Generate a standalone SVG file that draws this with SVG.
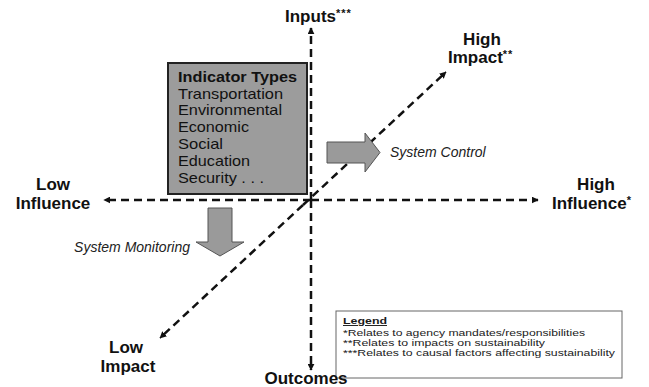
<svg xmlns="http://www.w3.org/2000/svg" width="649" height="387" viewBox="0 0 649 387">
<style>
.lbl{font-family:"Liberation Sans",Arial,sans-serif;font-weight:bold;font-size:17px;fill:#111}
.sup{font-size:11px;letter-spacing:1px}
.box{font-family:"Liberation Sans",Arial,sans-serif;font-size:15px;fill:#111}
.it{font-family:"Liberation Sans",Arial,sans-serif;font-style:italic;font-size:14px;fill:#222}
.leg{font-family:"Liberation Sans",Arial,sans-serif;font-size:9.5px;fill:#1a1a1a}
.axis{stroke:#111;stroke-width:2.5;stroke-dasharray:8 5;fill:none}
.blk{fill:#9a9a9a;stroke:#555;stroke-width:1}
</style>
<defs>
<marker id="ah" viewBox="0 0 10 10" refX="9" refY="5" markerWidth="7" markerHeight="7" markerUnits="userSpaceOnUse" orient="auto">
<path d="M0,0 L10,5 L0,10 z" fill="#111"/>
</marker>
</defs>
<rect width="649" height="387" fill="#fff"/>
<g id="connectors">
<line class="axis" x1="311" y1="200" x2="311" y2="28" marker-end="url(#ah)"/>
<line class="axis" x1="311" y1="200" x2="311" y2="370" marker-end="url(#ah)"/>
<line class="axis" x1="311" y1="200" x2="104" y2="200" marker-end="url(#ah)"/>
<line class="axis" x1="311" y1="200" x2="538" y2="200" marker-end="url(#ah)"/>
<line class="axis" x1="303" y1="205" x2="446" y2="72" marker-end="url(#ah)"/>
<line class="axis" x1="303" y1="205" x2="160" y2="338" marker-end="url(#ah)"/>
</g>
<g id="indicator-types">
<rect x="168" y="63" width="139" height="131" fill="#9c9c9c" stroke="#222" stroke-width="2"/>
<text class="box" x="178" y="82" font-weight="bold" textLength="119" lengthAdjust="spacingAndGlyphs">Indicator Types</text>
<text class="box" x="178" y="99" textLength="105" lengthAdjust="spacingAndGlyphs">Transportation</text>
<text class="box" x="178" y="115" textLength="104" lengthAdjust="spacingAndGlyphs">Environmental</text>
<text class="box" x="178" y="132" textLength="71" lengthAdjust="spacingAndGlyphs">Economic</text>
<text class="box" x="178" y="149" textLength="45" lengthAdjust="spacingAndGlyphs">Social</text>
<text class="box" x="178" y="166" textLength="72" lengthAdjust="spacingAndGlyphs">Education</text>
<text class="box" x="178" y="183" textLength="86" lengthAdjust="spacingAndGlyphs">Security . . .</text>
</g>
<g id="system-control">
<path class="blk" d="M327,142 H365 V133 L380,152.5 L365,172 V163 H327 Z"/>
<text class="it" x="390" y="157">System Control</text>
</g>
<g id="system-monitoring">
<path class="blk" d="M208,208 H232 V242 H244 L220,256 L196,242 H208 Z"/>
<text class="it" x="190" y="252" text-anchor="end">System Monitoring</text>
</g>
<g id="inputs"><text class="lbl" x="285" y="22">Inputs<tspan class="sup" dy="-5">***</tspan></text></g>
<g id="low-influence">
<text class="lbl" x="53" y="190" text-anchor="middle">Low</text>
<text class="lbl" x="53" y="209" text-anchor="middle">Influence</text>
</g>
<g id="high-influence">
<text class="lbl" x="596" y="190" text-anchor="middle">High</text>
<text class="lbl" x="552" y="209">Influence<tspan class="sup" dy="-5">*</tspan></text>
</g>
<g id="high-impact">
<text class="lbl" x="482" y="45" text-anchor="middle">High</text>
<text class="lbl" x="448" y="63">Impact<tspan class="sup" dy="-5">**</tspan></text>
</g>
<g id="low-impact">
<text class="lbl" x="126" y="353" text-anchor="middle">Low</text>
<text class="lbl" x="128" y="372" text-anchor="middle">Impact</text>
</g>
<g id="legend">
<rect x="336" y="311" width="286" height="67" fill="#fff" stroke="#666" stroke-width="1"/>
<text class="leg" x="343" y="324" font-weight="bold" text-decoration="underline" textLength="44" lengthAdjust="spacingAndGlyphs">Legend</text>
<text class="leg" x="343" y="336" textLength="242" lengthAdjust="spacingAndGlyphs">*Relates to agency mandates/responsibilities</text>
<text class="leg" x="343" y="346" textLength="202" lengthAdjust="spacingAndGlyphs">**Relates to impacts on sustainability</text>
<text class="leg" x="343" y="356" textLength="272" lengthAdjust="spacingAndGlyphs">***Relates to causal factors affecting sustainability</text>
</g>
<g id="outcomes"><text class="lbl" x="306" y="384" text-anchor="middle">Outcomes</text></g>
</svg>
